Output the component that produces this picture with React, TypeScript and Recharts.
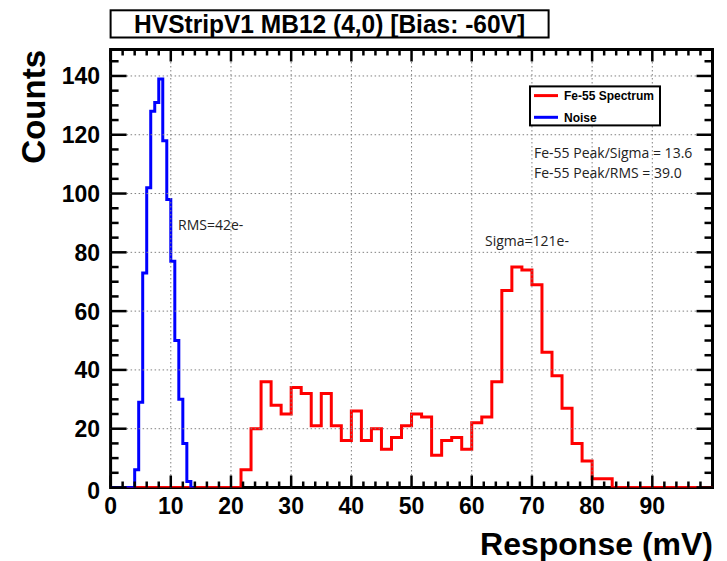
import { LineChart, Line, XAxis, YAxis, ReferenceArea } from "recharts";

// Fe-55 spectrum, bins of 5/3 mV from 0 to 100 mV
const fe55Counts = [
  0, 0, 0, 0, 0, 0, 0, 0, 0, 0,
  0, 0, 0, 6, 20, 36, 28, 25, 34, 32,
  21, 32, 21, 16, 26, 16, 20, 13, 17, 21,
  25, 24, 11, 16, 17, 13, 22, 24, 36, 67,
  75, 74, 69, 46, 38, 27, 15, 9, 3, 3,
  0, 0, 0, 0, 0, 0, 0, 0, 0, 0,
];

// noise, bins of 2/3 mV starting at 0
const noiseCounts = [
  0, 0, 0, 0, 0, 0, 6, 29, 73, 102,
  128, 131, 139, 118, 98, 77, 50, 30, 15, 2,
  0,
];

const xMajorTicks = [0, 10, 20, 30, 40, 50, 60, 70, 80, 90];
const yMajorTicks = [0, 20, 40, 60, 80, 100, 120, 140];

const FE55_BIN_WIDTH = 5 / 3;
const NOISE_BIN_WIDTH = 2 / 3;
const X_MAX = 100;
const Y_MAX = 149;

const WIDTH = 727;
const HEIGHT = 561;
const MARGIN = { top: 49.5, right: 14.5, left: 0, bottom: 0 };
const Y_AXIS_W = 110.6;
const X_AXIS_H = 73.5;
const PLOT_W = WIDTH - Y_AXIS_W - MARGIN.right;
const PLOT_H = HEIGHT - MARGIN.top - X_AXIS_H;

const BOLD_FONT = "'Liberation Sans', Arial, Helvetica, sans-serif";
const TEXT_FONT = "'Open Sans', 'Liberation Sans', sans-serif";

const toSteps = (counts: number[], binWidth: number) => [
  ...counts.map((c, i) => ({ x: i * binWidth, y: c })),
  { x: counts.length * binWidth, y: counts[counts.length - 1] },
];

const fe55Data = toSteps(fe55Counts, FE55_BIN_WIDTH);
const noiseData = toSteps(noiseCounts, NOISE_BIN_WIDTH);

// 5 minor divisions per major on x, 4 on y
const xTicks = xMajorTicks.flatMap((t) => [0, 2, 4, 6, 8].map((d) => t + d));
const yTicks = yMajorTicks
  .flatMap((t) => [0, 5, 10, 15].map((d) => t + d))
  .filter((v) => v < Y_MAX);

const XTick = ({ x, y, payload }: any) => {
  const v = payload.value;
  const major = v % 10 === 0;
  const len = major ? 12 : 6;
  return (
    <g>
      {major && v > 0 && (
        <line x1={x} x2={x} y1={y} y2={y - PLOT_H} stroke="#808080" strokeWidth={1} strokeDasharray="1.5 2.5" />
      )}
      <line x1={x} x2={x} y1={y} y2={y - len} stroke="#000" strokeWidth={2.5} />
      <line x1={x} x2={x} y1={y - PLOT_H} y2={y - PLOT_H + len} stroke="#000" strokeWidth={2.5} />
      {major && (
        <text x={x} y={y + 26} textAnchor="middle" fontFamily={BOLD_FONT} fontWeight="bold" fontSize={23} fill="#000">
          {v}
        </text>
      )}
    </g>
  );
};

const YTick = ({ x, y, payload }: any) => {
  const v = payload.value;
  const major = v % 20 === 0;
  const len = major ? 16 : 8;
  return (
    <g>
      {major && v > 0 && (
        <line x1={x} x2={x + PLOT_W} y1={y} y2={y} stroke="#808080" strokeWidth={1} strokeDasharray="1.5 2.5" />
      )}
      <line x1={x} x2={x + len} y1={y} y2={y} stroke="#000" strokeWidth={2.5} />
      <line x1={x + PLOT_W} x2={x + PLOT_W - len} y1={y} y2={y} stroke="#000" strokeWidth={2.5} />
      {major && (
        <text x={x - 10.6} y={v === 0 ? y + 11 : y + 8.4} textAnchor="end" fontFamily={BOLD_FONT} fontWeight="bold" fontSize={23} fill="#000">
          {v}
        </text>
      )}
    </g>
  );
};

export default function App() {
  return (
    <div style={{ position: "absolute", left: 0, top: 0, width: WIDTH, height: HEIGHT, background: "#fff" }}>
      <LineChart width={WIDTH} height={HEIGHT} margin={MARGIN}>
        <XAxis
          type="number"
          dataKey="x"
          domain={[0, X_MAX]}
          ticks={xTicks}
          interval={0}
          height={X_AXIS_H}
          tickSize={0}
          tickMargin={0}
          axisLine={false}
          tickLine={false}
          tick={<XTick />}
          allowDataOverflow
        />
        <YAxis
          type="number"
          domain={[0, Y_MAX]}
          ticks={yTicks}
          interval={0}
          width={Y_AXIS_W}
          tickSize={0}
          tickMargin={0}
          axisLine={false}
          tickLine={false}
          tick={<YTick />}
          allowDataOverflow
        />
        <ReferenceArea
          x1={0}
          x2={X_MAX}
          y1={0}
          y2={Y_MAX}
          fill="none"
          fillOpacity={0}
          stroke="#000"
          strokeWidth={3}
          ifOverflow="visible"
        />
        <Line
          data={fe55Data}
          dataKey="y"
          type="stepAfter"
          stroke="#ff0000"
          strokeWidth={3}
          dot={false}
          activeDot={false}
          isAnimationActive={false}
        />
        <Line
          data={noiseData}
          dataKey="y"
          type="stepAfter"
          stroke="#0000ff"
          strokeWidth={3}
          dot={false}
          activeDot={false}
          isAnimationActive={false}
        />
      </LineChart>
      <svg
        width={WIDTH}
        height={HEIGHT}
        style={{ position: "absolute", left: 0, top: 0, pointerEvents: "none" }}
      >
        <rect x={110.6} y={10.3} width={438} height={27.2} fill="#fff" stroke="#000" strokeWidth={2} />
        <text
          x={329.6}
          y={32.6}
          textAnchor="middle"
          fontFamily={BOLD_FONT}
          fontWeight="bold"
          fontSize={25}
          textLength={391}
          lengthAdjust="spacingAndGlyphs"
        >
          HVStripV1 MB12 (4,0) [Bias: -60V]
        </text>

        <text
          transform="translate(45,50) rotate(-90)"
          textAnchor="end"
          fontFamily={BOLD_FONT}
          fontWeight="bold"
          fontSize={33}
        >
          Counts
        </text>
        <text x={713} y={555} textAnchor="end" fontFamily={BOLD_FONT} fontWeight="bold" fontSize={32}>
          Response (mV)
        </text>

        <rect x={530} y={86.4} width={130} height={39} fill="#fff" stroke="#000" strokeWidth={2} />
        <line x1={534} x2={558} y1={95.6} y2={95.6} stroke="#ff0000" strokeWidth={3} />
        <text x={564} y={99.9} fontFamily={BOLD_FONT} fontWeight="bold" fontSize={12}>
          Fe-55 Spectrum
        </text>
        <line x1={534} x2={558} y1={117.3} y2={117.3} stroke="#0000ff" strokeWidth={3} />
        <text x={564} y={121.6} fontFamily={BOLD_FONT} fontWeight="bold" fontSize={12}>
          Noise
        </text>

        <g fontFamily={TEXT_FONT} fontSize={14} fill="#222">
          <text x={534} y={157.5}>Fe-55 Peak/Sigma = 13.6</text>
          <text x={534} y={178}>Fe-55 Peak/RMS = 39.0</text>
          <text x={178} y={230}>RMS=42e-</text>
          <text x={485} y={246}>Sigma=121e-</text>
        </g>
      </svg>
    </div>
  );
}
